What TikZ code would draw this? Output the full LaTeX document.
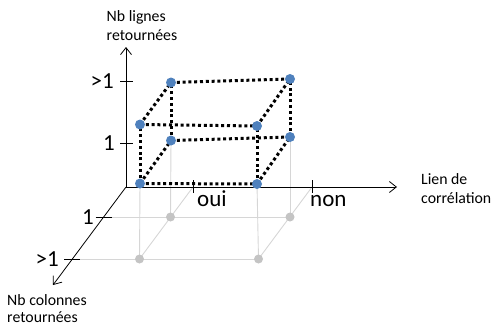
\documentclass[tikz,border=0pt]{standalone}
\usepackage{fontspec}
\setmainfont{Carlito}
\usetikzlibrary{arrows.meta}
\definecolor{ptblue}{HTML}{4F81BD}
\definecolor{ptgray}{HTML}{C4C4C4}
\definecolor{lngray}{HTML}{D6D6D6}
\begin{document}
\begin{tikzpicture}[x=1pt,y=-1pt,
  axis/.style={draw=black,line width=0.8pt},
  axisarrow/.style={axis,-{Straight Barb[length=7pt,width=11pt,line width=0.8pt]}},
  tick/.style={draw=black,line width=0.8pt},
  guide/.style={draw=lngray,line width=0.9pt},
  dotline/.style={draw=black,line width=3pt,dash pattern=on 3pt off 2.8pt},
  bluedot/.style={circle,fill=ptblue,inner sep=0pt,minimum size=10pt},
  graydot/.style={circle,fill=ptgray,inner sep=0pt,minimum size=9pt},
  small/.style={inner sep=0pt,font=\fontsize{15.8}{19}\selectfont},
  big/.style={inner sep=0pt,font=\fontsize{23}{27}\selectfont}]
\useasboundingbox (0,0) rectangle (494,327);
% axis points
\coordinate (O) at (126,187);
\coordinate (Ytip) at (126,47);
\coordinate (Xtip) at (397,187);
\coordinate (Ztip) at (53,285);
% ticks
\coordinate (ty2a) at (120,81.5);  \coordinate (ty2b) at (133,81.5);
\coordinate (ty1a) at (120,143);   \coordinate (ty1b) at (133,143);
\coordinate (txoa) at (193,180);   \coordinate (txob) at (193,193);
\coordinate (txna) at (312,180);   \coordinate (txnb) at (312,193);
\coordinate (tz1a) at (95.7,217);  \coordinate (tz1b) at (111.7,217);
\coordinate (tz2a) at (64.4,259);  \coordinate (tz2b) at (80.4,259);
\coordinate (Xoui) at (193,187);
\coordinate (Xnon) at (312,187);
% box points
\coordinate (A) at (140,183.5);
\coordinate (B) at (257,184);
\coordinate (C) at (140,124.5);
\coordinate (D) at (257,126);
\coordinate (E) at (171,140.5);
\coordinate (F) at (290,137);
\coordinate (G) at (171,82.5);
\coordinate (H) at (290,79);
% floor points
\coordinate (P1) at (170.5,217);
\coordinate (P2) at (290,217);
\coordinate (P3) at (139.5,259);
\coordinate (P4) at (258.5,259);
% guide lines
\draw[guide] (tz1b) -- (P2);
\draw[guide] (tz2b) -- (P4);
\draw[guide] (Xoui) -- (P3);
\draw[guide] (Xnon) -- (P4);
\draw[guide] (A) -- (P3);
\draw[guide] (E) -- (P1);
\draw[guide] (B) -- (P4);
\draw[guide] (F) -- (P2);
% axes
\draw[axisarrow] (O) -- (Ytip);
\draw[axisarrow] (O) -- (Xtip);
\draw[axisarrow] (O) -- (Ztip);
\draw[tick] (ty2a) -- (ty2b);
\draw[tick] (ty1a) -- (ty1b);
\draw[tick] (txoa) -- (txob);
\draw[tick] (txna) -- (txnb);
\draw[tick] (tz1a) -- (tz1b);
\draw[tick] (tz2a) -- (tz2b);
% box edges
\draw[dotline] (A) -- (B);
\draw[dotline] (C) -- (D);
\draw[dotline] (E) -- (F);
\draw[dotline] (G) -- (H);
\draw[dotline] (A) -- (C);
\draw[dotline] (B) -- (D);
\draw[dotline] (E) -- (G);
\draw[dotline] (F) -- (H);
\draw[dotline] (A) -- (E);
\draw[dotline] (C) -- (G);
\draw[dotline] (B) -- (F);
\draw[dotline] (D) -- (H);
% dots
\node[graydot] (gP1) at (P1) {};
\node[graydot] (gP2) at (P2) {};
\node[graydot] (gP3) at (P3) {};
\node[graydot] (gP4) at (P4) {};
\node[bluedot] (dA) at (A) {};
\node[bluedot] (dB) at (B) {};
\node[bluedot] (dC) at (C) {};
\node[bluedot] (dD) at (D) {};
\node[bluedot] (dE) at (E) {};
\node[bluedot] (dF) at (F) {};
\node[bluedot] (dG) at (G) {};
\node[bluedot] (dH) at (H) {};
% labels
\node[big,anchor=east] (ly2) at (114,81.5) {>1};
\node[big,anchor=east] (ly1) at (115,143) {1};
\node[big,anchor=east] (lz1) at (94,217) {1};
\node[big,anchor=east] (lz2) at (59,259) {>1};
\node[big,anchor=base west] (loui) at (197,206) {oui};
\node[big,anchor=base west] (lnon) at (310,206) {non};
\node[small,anchor=base west] (ylab1) at (106.5,21) {Nb lignes};
\node[small,anchor=base west] (ylab2) at (106.5,40) {retournées};
\node[small,anchor=base west] (xlab1) at (421,184) {Lien de};
\node[small,anchor=base west] (xlab2) at (421,203) {corrélation};
\node[small,anchor=base west] (zlab1) at (7,305) {Nb colonnes};
\node[small,anchor=base west] (zlab2) at (7,322) {retournées};
\end{tikzpicture}
\end{document}
